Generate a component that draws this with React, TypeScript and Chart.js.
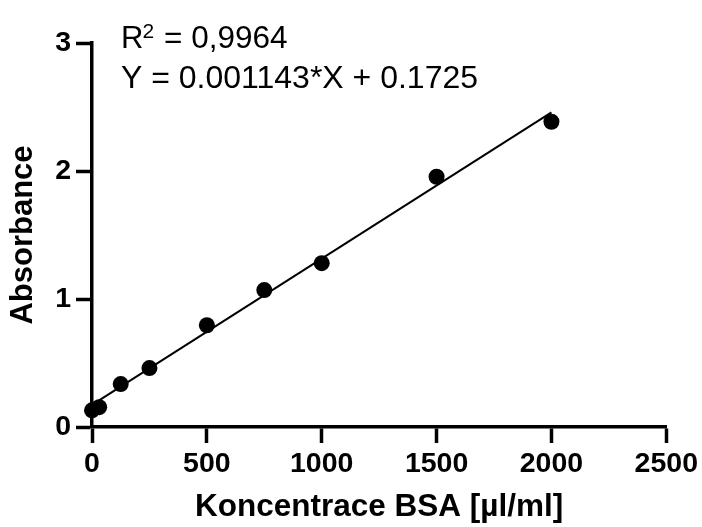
import React, { useEffect, useRef } from "react";
import { Chart, registerables } from "chart.js";

Chart.register(...registerables);

const FONT = '"Liberation Sans", Arial, Helvetica, sans-serif';

// BSA standard curve data
const concentrations = [0, 31.25, 125, 250, 500, 750, 1000, 1500, 2000];
const absorbances = [0.13, 0.155, 0.335, 0.46, 0.795, 1.07, 1.28, 1.955, 2.385];

// Linear fit line endpoints (Y = 0.001143*X + 0.1725)
const fitX = [0, 2000];
const fitY = [0.1725, 2.4585];

const xTicks = [0, 500, 1000, 1500, 2000, 2500];
const yTicks = [0, 1, 2, 3];

const xTitle = "Koncentrace BSA [µl/ml]";
const yTitle = "Absorbance";
const r2Value = "0,9964";
const equationText = "Y = 0.001143*X + 0.1725";

const annotationPlugin = {
  id: "fitAnnotation",
  afterDraw(chart: any) {
    const { ctx, chartArea } = chart;
    ctx.save();
    ctx.fillStyle = "#000";
    ctx.textAlign = "left";
    ctx.textBaseline = "alphabetic";
    const x0 = chartArea.left + 29;
    ctx.font = `31px ${FONT}`;
    ctx.fillText("R", x0, 48);
    const rW = ctx.measureText("R").width;
    ctx.font = `21px ${FONT}`;
    ctx.fillText("2", x0 + rW - 1, 38);
    ctx.font = `31.5px ${FONT}`;
    ctx.fillText("= " + r2Value, x0 + 43, 48);
    ctx.font = `32px ${FONT}`;
    ctx.fillText(equationText, x0, 88);
    ctx.restore();
  },
};

export default function App() {
  const ref = useRef<HTMLCanvasElement | null>(null);

  useEffect(() => {
    if (!ref.current) return;
    const chart = new Chart(ref.current, {
      type: "scatter",
      data: {
        datasets: [
          {
            label: "Data",
            data: concentrations.map((x, i) => ({ x, y: absorbances[i] })),
            backgroundColor: "#000",
            borderColor: "#000",
            borderWidth: 0,
            pointRadius: 8,
            pointHoverRadius: 8,
            showLine: false,
            clip: false,
          } as any,
          {
            label: "Fit",
            data: fitX.map((x, i) => ({ x, y: fitY[i] })),
            borderColor: "#000",
            borderWidth: 2,
            pointRadius: 0,
            showLine: true,
            clip: false,
          } as any,
        ],
      },
      options: {
        animation: false,
        responsive: false,
        events: [],
        layout: { padding: { top: 43, right: 34, left: 0, bottom: 0 } },
        plugins: {
          legend: { display: false },
          tooltip: { enabled: false },
        },
        scales: {
          x: {
            type: "linear",
            min: 0,
            max: 2500,
            afterFit: (s: any) => {
              s.height = 100;
            },
            afterBuildTicks: (s: any) => {
              s.ticks = xTicks.map((v) => ({ value: v }));
            },
            border: { display: true, color: "#000", width: 3.5 },
            grid: {
              drawOnChartArea: false,
              drawTicks: true,
              tickLength: 16,
              tickWidth: 3.5,
              tickColor: "#000",
              color: "#000",
            },
            ticks: {
              color: "#000",
              padding: 4,
              maxRotation: 0,
              autoSkip: false,
              font: { family: FONT, size: 28.5, weight: "bold" },
              callback: (v: any) => String(v),
            },
            title: {
              display: true,
              text: xTitle,
              color: "#000",
              font: { family: FONT, size: 31.5, weight: "bold" },
              padding: { top: 0, bottom: 1 },
            },
          },
          y: {
            type: "linear",
            min: 0,
            max: 3,
            afterFit: (s: any) => {
              s.width = 92;
            },
            afterBuildTicks: (s: any) => {
              s.ticks = yTicks.map((v) => ({ value: v }));
            },
            border: { display: true, color: "#000", width: 3.5 },
            grid: {
              drawOnChartArea: false,
              drawTicks: true,
              tickLength: 16,
              tickWidth: 3.5,
              tickColor: "#000",
              color: "#000",
            },
            ticks: {
              color: "#000",
              padding: 5,
              font: { family: FONT, size: 28.5, weight: "bold" },
              callback: (v: any) => String(v),
            },
            title: {
              display: true,
              text: yTitle,
              color: "#000",
              font: { family: FONT, size: 31, weight: "bold" },
              padding: { top: 5, bottom: 0 },
            },
          },
        },
      } as any,
      plugins: [annotationPlugin],
    });
    return () => chart.destroy();
  }, []);

  return (
    <div style={{ position: "absolute", left: 0, top: 0, width: 702, height: 527, background: "#fff" }}>
      <canvas ref={ref} width={702} height={527} style={{ display: "block" }} />
    </div>
  );
}
